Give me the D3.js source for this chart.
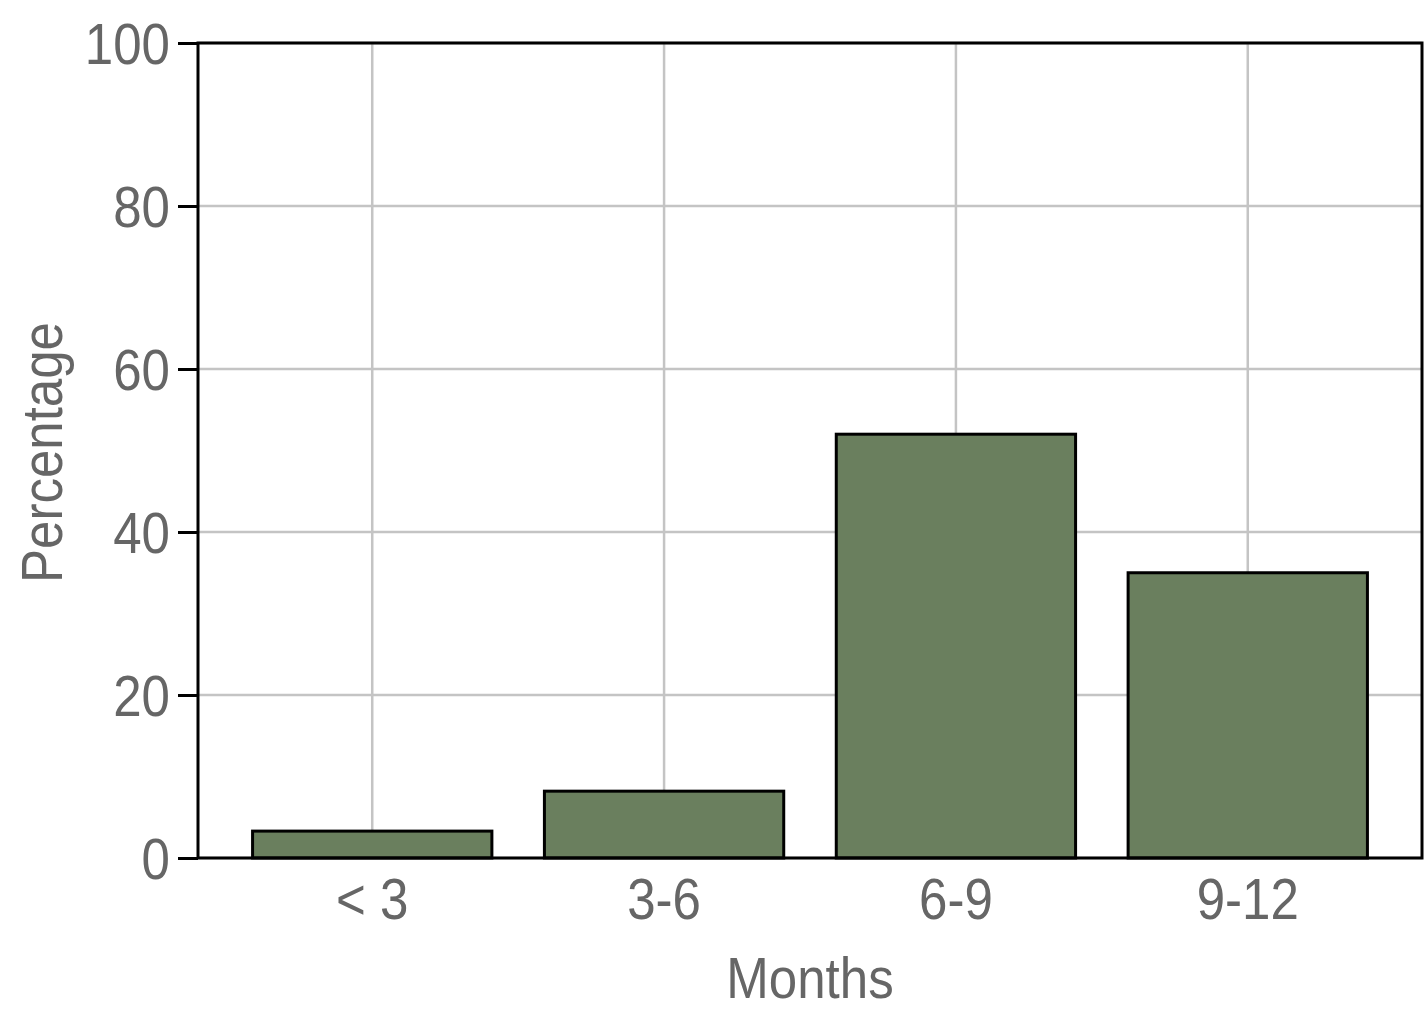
<!DOCTYPE html>
<html>
<head>
<meta charset="utf-8">
<script src="https://cdn.jsdelivr.net/npm/d3@7"></script>
<style>
  html, body { margin: 0; padding: 0; background: #fff; }
  svg text { font-family: "Liberation Sans Narrow", "Liberation Sans", Arial, sans-serif; fill: #666; }
</style>
</head>
<body>
<div id="chart"></div>
<script>
// 数据
const categories = ['< 3', '3-6', '6-9', '9-12'];
const percentages = [3.3, 8.2, 52.0, 35.0];
const yTicks = [0, 20, 40, 60, 80, 100];

const width = 1425;
const height = 1024;
const margin = { top: 43, right: 3, bottom: 166, left: 198 };
const innerW = width - margin.left - margin.right;
const innerH = height - margin.top - margin.bottom;

// 字体横向压缩，模拟窄体字
const squeeze = 0.88;

const colors = {
  bar: '#6a7f5e',
  grid: '#c4c4c4',
  axis: '#000000'
};

const svg = d3.select('#chart')
  .append('svg')
  .attr('width', width)
  .attr('height', height);

const g = svg.append('g')
  .attr('transform', `translate(${margin.left},${margin.top})`);

const x = d3.scaleBand()
  .domain(categories)
  .range([0, innerW])
  .paddingInner(0.18)
  .paddingOuter(0.187);

const y = d3.scaleLinear()
  .domain([0, 100])
  .range([innerH, 0]);

// 网格线
g.append('g')
  .selectAll('line.h')
  .data(yTicks)
  .enter()
  .append('line')
  .attr('x1', 0)
  .attr('x2', innerW)
  .attr('y1', d => y(d))
  .attr('y2', d => y(d))
  .attr('stroke', colors.grid)
  .attr('stroke-width', 2.5);

g.append('g')
  .selectAll('line.v')
  .data(categories)
  .enter()
  .append('line')
  .attr('x1', d => x(d) + x.bandwidth() / 2)
  .attr('x2', d => x(d) + x.bandwidth() / 2)
  .attr('y1', 0)
  .attr('y2', innerH)
  .attr('stroke', colors.grid)
  .attr('stroke-width', 2.5);

// 柱子
g.append('g')
  .selectAll('rect')
  .data(percentages)
  .enter()
  .append('rect')
  .attr('x', (d, i) => x(categories[i]))
  .attr('y', d => y(d))
  .attr('width', x.bandwidth())
  .attr('height', d => innerH - y(d))
  .attr('fill', colors.bar)
  .attr('stroke', colors.axis)
  .attr('stroke-width', 3);

// 边框
g.append('rect')
  .attr('x', 0)
  .attr('y', 0)
  .attr('width', innerW)
  .attr('height', innerH)
  .attr('fill', 'none')
  .attr('stroke', colors.axis)
  .attr('stroke-width', 3);

// Y 轴
const yAxis = g.append('g')
  .call(d3.axisLeft(y).tickValues(yTicks).tickSize(20));
yAxis.select('.domain').remove();
yAxis.selectAll('.tick line').attr('stroke', colors.axis).attr('stroke-width', 3);
yAxis.selectAll('.tick text')
  .attr('x', -28 / squeeze)
  .attr('transform', `scale(${squeeze},1)`)
  .attr('font-size', 58)
  .attr('dy', '0.36em')
  .style('fill', '#666');

// X 轴
const xAxis = g.append('g')
  .attr('transform', `translate(0,${innerH})`)
  .call(d3.axisBottom(x).tickSize(0).tickPadding(20));
xAxis.select('.domain').remove();
xAxis.selectAll('.tick text')
  .attr('transform', `scale(${squeeze},1)`)
  .attr('font-size', 58)
  .attr('dy', '0.71em')
  .style('fill', '#666');

// 轴标题
svg.append('text')
  .attr('transform', `translate(${margin.left + innerW / 2},998) scale(${squeeze},1)`)
  .attr('text-anchor', 'middle')
  .attr('font-size', 58)
  .text('Months');

svg.append('text')
  .attr('transform', `translate(62,${margin.top + innerH / 2 + 2}) rotate(-90) scale(${squeeze},1)`)
  .attr('text-anchor', 'middle')
  .attr('font-size', 58)
  .text('Percentage');
</script>
</body>
</html>
